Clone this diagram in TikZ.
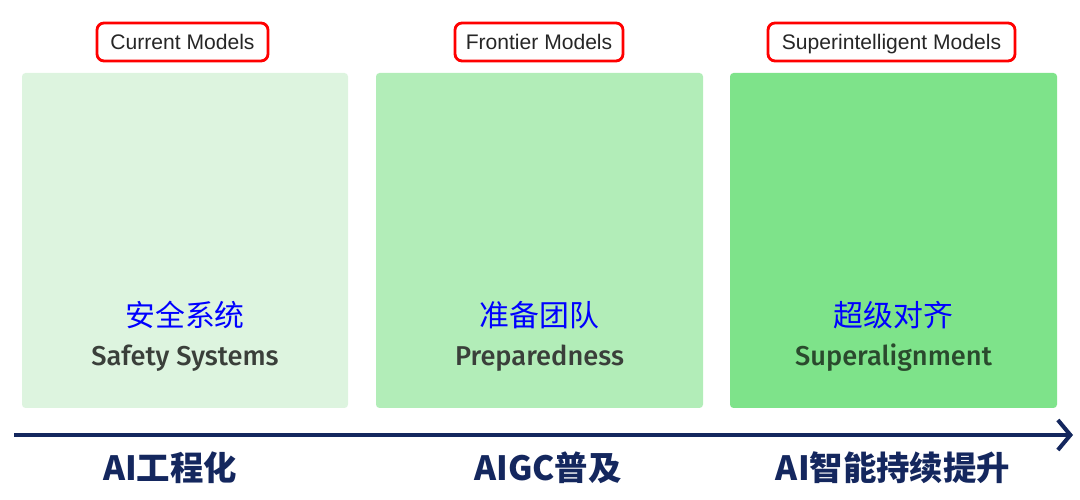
\documentclass[tikz,border=0pt]{standalone}
\usepackage{fontspec}
\setmainfont{Liberation Sans}
\newfontfamily\cjk{Noto Sans CJK SC}
\newfontfamily\enmed{Fira Sans}[UprightFont=* Medium]
\usetikzlibrary{arrows.meta}
\definecolor{boxa}{HTML}{DDF4DF}
\definecolor{boxb}{HTML}{B2EDB8}
\definecolor{boxc}{HTML}{7EE38A}
\definecolor{navy}{HTML}{14275E}
\definecolor{txtgray}{HTML}{3A3F3A}
\definecolor{txtgreen}{HTML}{2A4A2D}
\tikzset{
  tag/.style={draw=red,line width=1.6pt,rounded corners=4pt,inner sep=0pt,
    minimum height=0.76cm,text height=8.4pt,text depth=0pt,
    text=black!85,font=\fontsize{12}{13}\selectfont},
  cnname/.style={text=blue,font=\cjk\fontsize{17}{18}\selectfont},
  enname/.style={font=\enmed\fontsize{15.5}{17}\selectfont},
  stage/.style={text=navy,font=\cjk\bfseries\fontsize{19}{21}\selectfont}
}
\begin{document}
\begin{tikzpicture}
	\useasboundingbox (0,0) rectangle (21.6,10);
	\coordinate (A1) at (0.44,1.84);
	\coordinate (A2) at (6.96,8.54);
	\coordinate (B1) at (7.52,1.84);
	\coordinate (B2) at (14.06,8.54);
	\coordinate (C1) at (14.6,1.84);
	\coordinate (C2) at (21.14,8.54);
    % 三个绿色方块
    \fill[boxa,rounded corners=2pt] (A1) rectangle (A2);
    \fill[boxb,rounded corners=2pt] (B1) rectangle (B2);
    \fill[boxc,rounded corners=2pt] (C1) rectangle (C2);
    
    % 顶部红框标签
    \node[tag,minimum width=3.42cm] (current) at (3.65,9.16) {Current Models};
    \node[tag,minimum width=3.36cm] (frontier) at (10.78,9.16) {Frontier Models};
    \node[tag,minimum width=4.94cm] (superint) at (17.83,9.16) {Superintelligent Models};
    
    % 方块内的中英文名称
    \node[cnname] (safetycn) at (3.7,3.7) {安全系统};
    \node[enname,text=txtgray] (safetyen) at (3.7,2.84) {Safety Systems};
    \node[cnname] (prepcn) at (10.79,3.7) {准备团队};
    \node[enname,text=txtgray] (prepen) at (10.79,2.84) {Preparedness};
    \node[cnname] (supercn) at (17.87,3.7) {超级对齐};
    \node[enname,text=txtgreen] (superen) at (17.87,2.84) {Superalignment};
    
    % 时间轴箭头
    \coordinate (S) at (0.28,1.3);
    \coordinate (E) at (21.46,1.3);
    \draw[navy,line width=2.3pt,-{Straight Barb[length=2.5mm,width=6mm,line width=2.3pt]}] (S) -- (E);
    
    % 底部阶段标签
    \node[stage] (eng) at (3.4,0.64) {AI工程化};
    \node[stage] (aigc) at (10.96,0.64) {AIGC普及};
    \node[stage] (agi) at (17.86,0.64) {AI智能持续提升};
    
\end{tikzpicture}
\end{document}
